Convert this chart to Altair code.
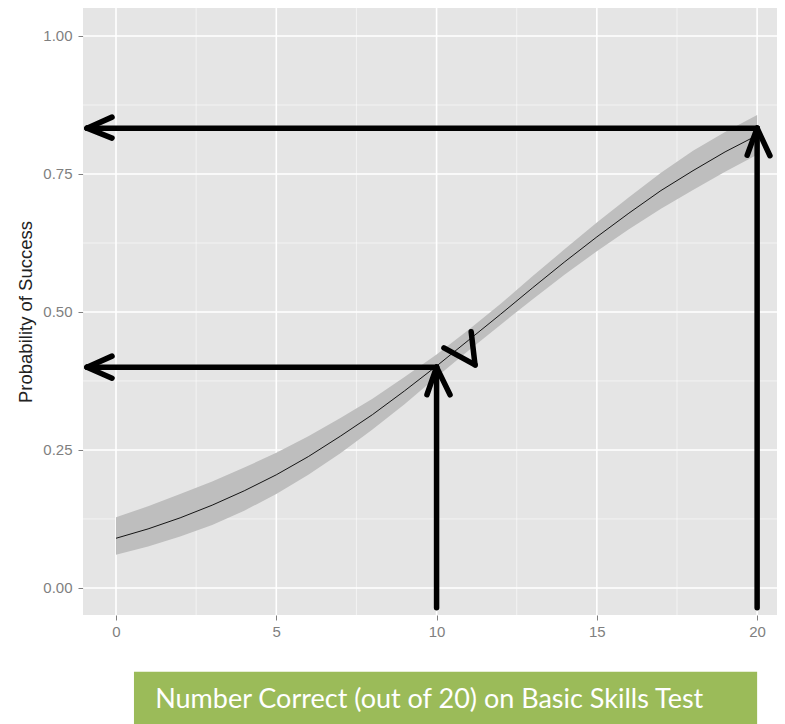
import altair as alt
import pandas as pd

# ---- data ----
xs = list(range(21))
fit = [0.090, 0.107, 0.127, 0.150, 0.176, 0.205, 0.238, 0.275, 0.314, 0.357, 0.402,
       0.449, 0.496, 0.544, 0.591, 0.636, 0.679, 0.720, 0.756, 0.790, 0.820]
lower = [0.060, 0.075, 0.093, 0.114, 0.140, 0.170, 0.205, 0.244, 0.287, 0.333, 0.382,
         0.430, 0.477, 0.523, 0.568, 0.610, 0.650, 0.687, 0.721, 0.754, 0.785]
upper = [0.128, 0.148, 0.170, 0.193, 0.218, 0.245, 0.275, 0.308, 0.343, 0.382, 0.423,
         0.468, 0.515, 0.565, 0.614, 0.662, 0.708, 0.752, 0.792, 0.826, 0.857]

x_ticks = [0, 5, 10, 15, 20]
x_minor = [2.5, 7.5, 12.5, 17.5]
y_ticks = [0.0, 0.25, 0.5, 0.75, 1.0]
y_minor = [0.125, 0.375, 0.625, 0.875]

# annotation arrows (data units): x, y, x2, y2
seg_x = [20.0, -0.905, -0.905, 20.0, 20.0, 20.0,
         9.98, -0.905, -0.905, 10.0, 10.0, 10.0,
         10.23, 11.08]
seg_y = [0.833, 0.833, 0.833, -0.036, 0.833, 0.833,
         0.400, 0.400, 0.400, -0.036, 0.400, 0.400,
         0.435, 0.464]
seg_x2 = [-0.905, -0.125, -0.125, 20.0, 19.69, 20.40,
          -0.905, -0.125, -0.125, 10.0, 9.70, 10.42,
          11.20, 11.20]
seg_y2 = [0.833, 0.853, 0.815, 0.833, 0.784, 0.783,
          0.400, 0.420, 0.380, 0.400, 0.350, 0.350,
          0.404, 0.404]

title_text = ["Number Correct (out of 20) on Basic Skills Test"]
box_x = [0.56]
box_x2 = [20.0]
box_y = [-0.152]
box_y2 = [-0.26]
label_x = [9.77]
label_y = [-0.203]

X_DOM = [-1.03, 20.62]
Y_DOM = [-0.049, 1.0507]

curve = pd.DataFrame({"x": xs, "fit": fit, "lo": lower, "hi": upper})
segs = pd.DataFrame({"x": seg_x, "y": seg_y, "x2": seg_x2, "y2": seg_y2})
vmaj = pd.DataFrame({"x": x_ticks})
vmin = pd.DataFrame({"x": x_minor})
hmaj = pd.DataFrame({"y": y_ticks})
hmin = pd.DataFrame({"y": y_minor})
box = pd.DataFrame({"x": box_x, "x2": box_x2, "y": box_y, "y2": box_y2})
lab = pd.DataFrame({"x": label_x, "y": label_y, "t": title_text})

xs_scale = alt.Scale(domain=X_DOM, nice=False, zero=False)
ys_scale = alt.Scale(domain=Y_DOM, nice=False, zero=False)

x_axis = alt.Axis(values=x_ticks, grid=False, domain=False, tickColor="#7F7F7F",
                  tickSize=5, labelColor="#7F7F7F", labelFont="Liberation Sans",
                  labelFontSize=15, labelPadding=4, title=None)
y_axis = alt.Axis(values=y_ticks, grid=False, domain=False, tickColor="#7F7F7F",
                  tickSize=5, labelColor="#7F7F7F", labelFont="Liberation Sans",
                  labelFontSize=15, labelPadding=6, format=".2f",
                  title="Probability of Success", titleFont="Liberation Sans",
                  titleFontSize=18.5, titleFontWeight="normal", titleColor="#222222",
                  titlePadding=7)

minor_v = alt.Chart(vmin).mark_rule(color="white", strokeWidth=0.8, opacity=0.7).encode(
    x=alt.X("x:Q", scale=xs_scale, axis=x_axis))
major_v = alt.Chart(vmaj).mark_rule(color="white", strokeWidth=1.6).encode(
    x=alt.X("x:Q", scale=xs_scale))
minor_h = alt.Chart(hmin).mark_rule(color="white", strokeWidth=0.8, opacity=0.7).encode(
    y=alt.Y("y:Q", scale=ys_scale, axis=y_axis))
major_h = alt.Chart(hmaj).mark_rule(color="white", strokeWidth=1.6).encode(
    y=alt.Y("y:Q", scale=ys_scale))

band = alt.Chart(curve).mark_area(color="#BEBEBE", opacity=1).encode(
    x=alt.X("x:Q", scale=xs_scale), y=alt.Y("lo:Q", scale=ys_scale), y2="hi:Q")
line = alt.Chart(curve).mark_line(color="black", strokeWidth=0.9).encode(
    x=alt.X("x:Q", scale=xs_scale), y=alt.Y("fit:Q", scale=ys_scale))

arrows = alt.Chart(segs).mark_rule(color="black", strokeWidth=5.5, strokeCap="round").encode(
    x=alt.X("x:Q", scale=xs_scale), y=alt.Y("y:Q", scale=ys_scale), x2="x2:Q", y2="y2:Q")

boxm = alt.Chart(box).mark_rect(color="#9BBB59").encode(
    x=alt.X("x:Q", scale=xs_scale), x2="x2:Q", y=alt.Y("y:Q", scale=ys_scale), y2="y2:Q")
labm = alt.Chart(lab).mark_text(color="white", font="Lato", fontSize=27,
                                align="center", baseline="middle").encode(
    x=alt.X("x:Q", scale=xs_scale), y=alt.Y("y:Q", scale=ys_scale), text="t:N")

chart = alt.layer(minor_v, major_v, minor_h, major_h, band, line, arrows, boxm, labm).properties(
    width=694, height=607,
    autosize=alt.AutoSizeParams(type="none"),
    padding={"left": 75, "top": 0, "right": 0, "bottom": 109},
    background="white",
).configure_view(fill="#E5E5E5", stroke=None)

chart.save("out.html", embed_options={"renderer": "svg", "actions": False})
